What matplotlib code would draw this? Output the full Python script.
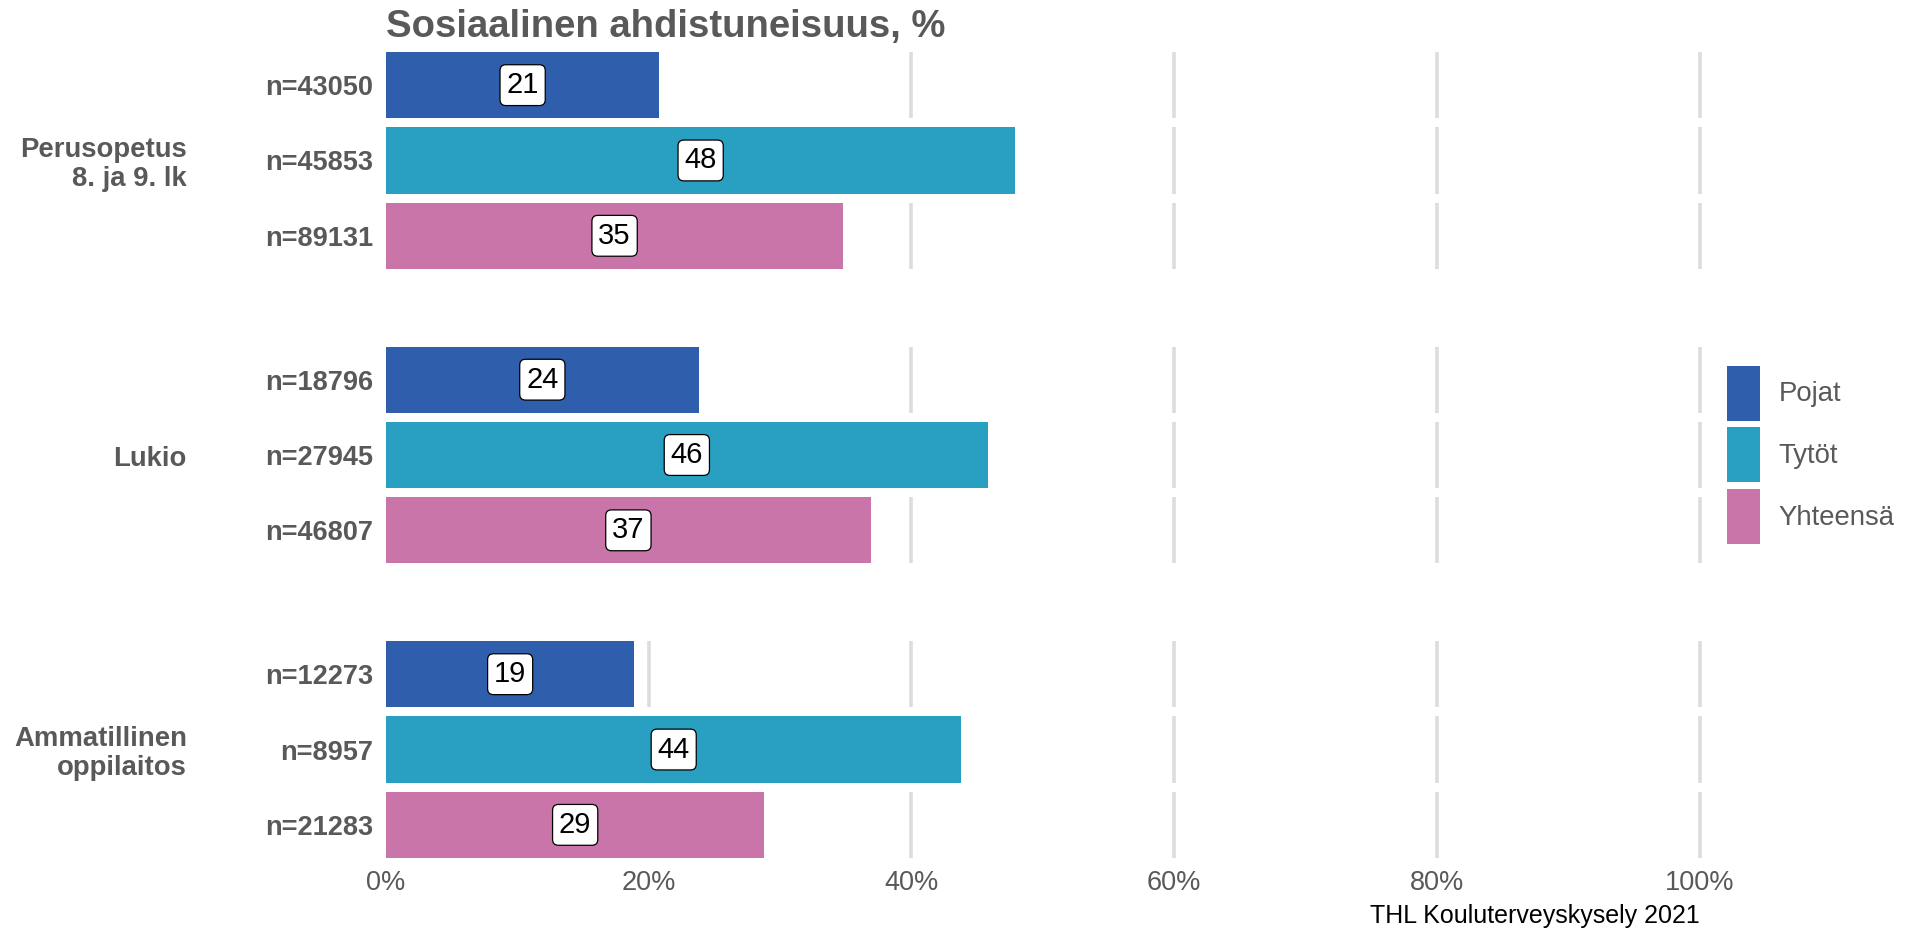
import numpy as np
import matplotlib
matplotlib.use("Agg")
import matplotlib.pyplot as plt
from matplotlib.patches import Patch
from matplotlib.ticker import FuncFormatter
from matplotlib.transforms import blended_transform_factory

plt.rcParams['font.family'] = ['Liberation Sans', 'DejaVu Sans']

# data
groups = ["Perusopetus\n8. ja 9. lk", "Lukio", "Ammatillinen\noppilaitos"]
series = ["Pojat", "Tytöt", "Yhteensä"]
pojat = [20.8, 23.8, 18.9]
tytot = [47.9, 45.8, 43.8]
yhteensa = [34.8, 36.9, 28.8]
n_pojat = [43050, 18796, 12273]
n_tytot = [45853, 27945, 8957]
n_yhteensa = [89131, 46807, 21283]
xticks = [0, 20, 40, 60, 80, 100]

colors = ["#2f5fac", "#29a0c2", "#ca75a9"]
grey = "#595959"

fig = plt.figure(figsize=(19.08, 9.30), dpi=100)
ax = fig.add_axes([386 / 1908, 1 - 858 / 930, 1340 / 1908, 806 / 930])

group_step = 3.91
bar_h = 0.88
gridx = [20, 40, 60, 80, 100]

ypos, ylabels = [], []
for g in range(len(groups)):
    vals = [pojat[g], tytot[g], yhteensa[g]]
    ns = [n_pojat[g], n_tytot[g], n_yhteensa[g]]
    for s in range(3):
        y = g * group_step + s
        ypos.append(y)
        ylabels.append("n=%d" % ns[s])
        # every bar sits in its own small panel, grid only inside it
        ax.vlines(gridx, y - bar_h / 2, y + bar_h / 2, color="#dddddd", lw=2.6, zorder=0)
        ax.barh(y, vals[s], height=bar_h, color=colors[s], lw=0, zorder=2)
        ax.text(vals[s] / 2, y, "%d" % round(vals[s]), ha="center", va="center",
                fontsize=21, color="black", zorder=3,
                bbox=dict(boxstyle="round,pad=0.22,rounding_size=0.2", fc="white",
                          ec="black", lw=0.9))

lab_trans = blended_transform_factory(fig.transFigure, ax.transData)
for g in range(len(groups)):
    ax.text(187 / 1908, g * group_step + 1.05, groups[g], transform=lab_trans,
            ha="right", va="center", multialignment="right", fontsize=19.8,
            fontweight="bold", color=grey, linespacing=1.15)

ax.set_xlim(0, 102)
ax.set_ylim(2 * group_step + 2 + bar_h / 2, -bar_h / 2)
ax.set_yticks(ypos)
ax.set_yticklabels(ylabels, fontsize=19.5, fontweight="bold", color=grey)
ax.set_xticks(xticks)
ax.xaxis.set_major_formatter(FuncFormatter(lambda v, p: "%d%%" % v))
ax.tick_params(axis="x", length=0, pad=8.5, labelsize=19.5, labelcolor=grey)
ax.tick_params(axis="y", length=0, pad=9)
for sp in ax.spines.values():
    sp.set_visible(False)

fig.text(386 / 1908, 1 - 27 / 930, "Sosiaalinen ahdistuneisuus, %", ha="left", va="center",
         fontsize=27.5, fontweight="bold", color=grey)
fig.text(1700 / 1908, 1 - 923 / 930, "THL Kouluterveyskysely 2021", ha="right", va="baseline",
         fontsize=18, color="black")

handles = [Patch(facecolor=c, edgecolor="none") for c in colors]
fig.legend(handles, series, loc="center left", bbox_to_anchor=(1722 / 1908, 1 - 455 / 930),
           frameon=False, fontsize=19.8, labelcolor=grey, handlelength=1.2,
           handleheight=2.7, labelspacing=0.25, handletextpad=0.65, borderpad=0.2,
           borderaxespad=0)

fig.savefig("out.png", dpi=100)
